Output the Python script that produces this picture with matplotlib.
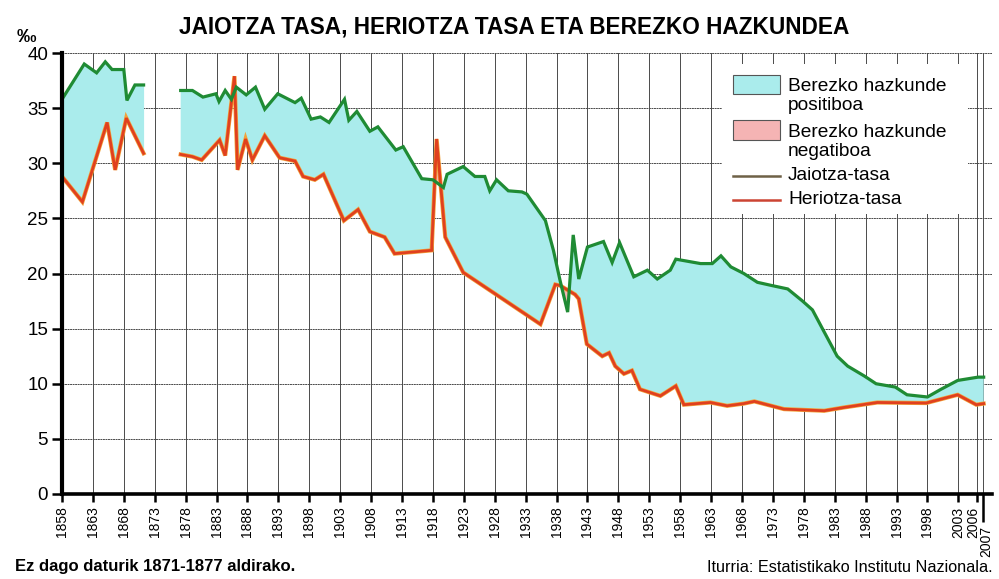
import numpy as np
import matplotlib
matplotlib.use("Agg")
import matplotlib.pyplot as plt
from matplotlib.patches import Rectangle
from matplotlib.lines import Line2D
from matplotlib.transforms import ScaledTranslation

plt.rcParams['font.family'] = ['Liberation Sans', 'DejaVu Sans']

# ---- data (NaN marks the 1872-1876 gap) ----
birth_years = [1858.0, 1861.6, 1863.6, 1865.0, 1866.1, 1868.0, 1868.5, 1869.8, 1871.2,
               1874.0,
               1877.2, 1879.1, 1880.8, 1882.9, 1883.4, 1884.4, 1885.4, 1886.2, 1887.8, 1889.3,
               1890.8, 1892.9, 1895.7, 1896.7, 1898.3, 1899.8, 1901.2, 1903.7, 1904.4, 1905.7,
               1907.8, 1909.1, 1912.0, 1913.2, 1916.2, 1918.0, 1919.7, 1920.3, 1922.9, 1924.8,
               1926.4, 1927.2, 1928.3, 1930.2, 1932.4, 1933.2, 1936.2, 1937.5, 1938.6, 1939.8,
               1940.7, 1941.6, 1943.0, 1945.6, 1947.0, 1948.2, 1950.5, 1952.7, 1954.3, 1956.4,
               1957.3, 1961.3, 1963.2, 1964.6, 1966.2, 1968.3, 1970.5, 1972.9, 1975.4, 1977.8,
               1979.4, 1981.3, 1983.4, 1985.1, 1987.8, 1989.7, 1992.8, 1994.7, 1998.0, 2000.2,
               2002.9, 2006.2, 2007.1]
birth_rate = [35.8, 39.0, 38.2, 39.2, 38.5, 38.5, 35.7, 37.1, 37.1,
              np.nan,
              36.6, 36.6, 36.0, 36.3, 35.6, 36.6, 35.8, 36.9, 36.2, 36.9,
              34.9, 36.3, 35.5, 35.9, 34.0, 34.2, 33.7, 35.8, 33.9, 34.7,
              32.9, 33.3, 31.2, 31.5, 28.6, 28.5, 27.8, 29.0, 29.7, 28.8,
              28.8, 27.5, 28.5, 27.5, 27.4, 27.2, 24.8, 22.1, 19.3, 16.5,
              23.5, 19.5, 22.4, 22.9, 21.0, 22.8, 19.7, 20.3, 19.5, 20.3,
              21.3, 20.9, 20.9, 21.6, 20.6, 20.0, 19.2, 18.9, 18.6, 17.5,
              16.7, 14.7, 12.5, 11.6, 10.7, 10.0, 9.7, 9.0, 8.8, 9.5,
              10.3, 10.6, 10.6]

death_years = [1858.0, 1861.3, 1865.3, 1866.6, 1868.4, 1871.2,
               1874.0,
               1877.2, 1879.1, 1880.6, 1883.5, 1884.4, 1885.9, 1886.4, 1887.7, 1888.8, 1890.8,
               1893.2, 1895.7, 1897.0, 1898.9, 1900.3, 1903.6, 1905.9, 1907.8, 1910.2, 1911.8,
               1917.8, 1918.6, 1920.0, 1922.9, 1935.4, 1937.8, 1938.6, 1941.0, 1941.6, 1942.9,
               1945.4, 1946.5, 1947.5, 1948.9, 1950.2, 1951.5, 1954.8, 1957.3, 1958.6, 1962.9,
               1965.6, 1968.3, 1970.0, 1974.8, 1981.3, 1984.5, 1989.9, 1997.8, 2002.9, 2005.9,
               2007.1]
death_rate = [28.8, 26.5, 33.7, 29.4, 34.1, 30.9,
              np.nan,
              30.8, 30.6, 30.3, 32.1, 30.7, 37.9, 29.4, 32.2, 30.3, 32.5,
              30.5, 30.2, 28.8, 28.5, 29.0, 24.8, 25.8, 23.8, 23.3, 21.8,
              22.1, 32.2, 23.3, 20.1, 15.4, 19.0, 18.9, 18.1, 17.7, 13.6,
              12.5, 12.8, 11.6, 10.9, 11.2, 9.5, 8.9, 9.8, 8.1, 8.3,
              8.0, 8.2, 8.4, 7.7, 7.55, 7.85, 8.3, 8.25, 9.0, 8.1,
              8.2]

x_ticks = list(range(1858, 2004, 5)) + [2006]
x_tick_extra = [2007]
y_ticks = [0, 5, 10, 15, 20, 25, 30, 35, 40]

title = "JAIOTZA TASA, HERIOTZA TASA ETA BEREZKO HAZKUNDEA"
legend_labels = ["Berezko hazkunde\npositiboa", "Berezko hazkunde\nnegatiboa",
                 "Jaiotza-tasa", "Heriotza-tasa"]
note_left = "Ez dago daturik 1871-1877 aldirako."
note_right = "Iturria: Estatistikako Institutu Nazionala."

CYAN = '#aaecec'
PINK = '#f5b4b4'
GREEN = '#1f8b34'
RED = '#e0401f'

W, H = 999, 579
fig = plt.figure(figsize=(W / 100, H / 100), dpi=100)
fig.patch.set_facecolor('white')
ax = fig.add_axes([62 / W, 1 - 494 / H, (991.7 - 62) / W, (494 - 53) / H])


def segments(xs, ys):
    xs = np.asarray(xs, float)
    ys = np.asarray(ys, float)
    out, cur = [], []
    for x, y in zip(xs, ys):
        if np.isnan(y):
            if cur:
                out.append(cur)
            cur = []
        else:
            cur.append((x, y))
    if cur:
        out.append(cur)
    return [(np.array([p[0] for p in s]), np.array([p[1] for p in s])) for s in out]


bsegs = segments(birth_years, birth_rate)
dsegs = segments(death_years, death_rate)

for (bx, by), (dx, dy) in zip(bsegs, dsegs):
    xx = np.union1d(bx, dx)
    bi = np.interp(xx, bx, by)
    di = np.interp(xx, dx, dy)
    ax.fill_between(xx, di, bi, where=bi >= di, interpolate=True,
                    color=CYAN, linewidth=0, zorder=2)
    ax.fill_between(xx, di, bi, where=bi < di, interpolate=True,
                    color=PINK, linewidth=0, zorder=2)
    ax.plot(dx, dy, color='#f2a23a', lw=3.0, zorder=3, solid_joinstyle='miter')
    ax.plot(dx, dy, color=RED, lw=2.0, zorder=4, solid_joinstyle='miter')
    ax.plot(bx, by, color=GREEN, lw=2.3, zorder=5, solid_joinstyle='miter')

ax.set_xlim(1858, 2008.4)
ax.set_ylim(0, 40)

ax.set_xticks(x_ticks)
ax.set_xticklabels([str(t) for t in x_ticks], rotation=90, fontsize=10)
ax.set_xticks(x_tick_extra, minor=True)
ax.set_xticklabels([str(t) for t in x_tick_extra], minor=True, rotation=90, fontsize=10)
ax.tick_params(axis='x', which='major', length=6, width=1.8, pad=3, direction='out')
ax.tick_params(axis='x', which='minor', length=20, width=1.8, pad=3, direction='out')
ax.set_yticks(y_ticks)
ax.set_yticklabels([str(t) for t in y_ticks], fontsize=13.5)
ax.tick_params(axis='y', length=7, width=1.8, pad=3, direction='out')

# spread the crowded 2006 / 2007 labels apart a little, as in the reference
lab_2006 = ax.get_xticklabels()[-1]
lab_2006.set_transform(lab_2006.get_transform() + ScaledTranslation(-4 / 100, 0, fig.dpi_scale_trans))
lab_2007 = ax.get_xticklabels(minor=True)[0]
lab_2007.set_transform(lab_2007.get_transform() + ScaledTranslation(3 / 100, 0, fig.dpi_scale_trans))

for t in x_ticks + x_tick_extra:
    ax.axvline(t, color='#4a4a4a', lw=0.7, zorder=1)
for v in y_ticks[1:]:
    ax.axhline(v, color='#4a4a4a', lw=0.7, zorder=1, ls=(0, (2, 0.6)))

for s in ['top', 'right']:
    ax.spines[s].set_visible(False)
ax.spines['left'].set_linewidth(3)
ax.spines['bottom'].set_linewidth(2.6)
ax.spines['left'].set_zorder(6)
ax.spines['bottom'].set_zorder(6)


def fx(px):
    return px / W


def fy(py):
    return 1 - py / H


fig.text(fx(514), fy(27), title, ha='center', va='center', fontsize=16.3,
         fontweight='bold')
fig.text(fx(17), fy(37), '‰', ha='left', va='center', fontsize=14, fontweight='bold')
fig.text(fx(15), fy(567), note_left, ha='left', va='center', fontsize=12,
         fontweight='bold')
fig.text(fx(993), fy(568), note_right, ha='right', va='center', fontsize=11.7)

# legend drawn in figure pixels
fig.patches.append(Rectangle((fx(722), fy(214)), fx(968) - fx(722), fy(64) - fy(214),
                             transform=fig.transFigure, facecolor='white',
                             edgecolor='none', zorder=10))
fig.patches.append(Rectangle((fx(733), fy(94)), fx(780) - fx(733), fy(75) - fy(94),
                             transform=fig.transFigure, facecolor=CYAN,
                             edgecolor='#555555', lw=0.8, zorder=11))
fig.patches.append(Rectangle((fx(733), fy(140)), fx(780) - fx(733), fy(120) - fy(140),
                             transform=fig.transFigure, facecolor=PINK,
                             edgecolor='#555555', lw=0.8, zorder=11))
fig.lines.append(Line2D([fx(733), fx(780)], [fy(176), fy(176)], transform=fig.transFigure,
                        color='#6e6147', lw=1.8, zorder=11))
fig.lines.append(Line2D([fx(733), fx(780)], [fy(200), fy(200)], transform=fig.transFigure,
                        color='#cc4433', lw=1.8, zorder=11))
fig.text(fx(788), fy(78), legend_labels[0], ha='left', va='top', fontsize=13.8,
         linespacing=1.12, zorder=12)
fig.text(fx(788), fy(124), legend_labels[1], ha='left', va='top', fontsize=13.8,
         linespacing=1.12, zorder=12)
fig.text(fx(788), fy(176), legend_labels[2], ha='left', va='center', fontsize=13.8, zorder=12)
fig.text(fx(788), fy(200), legend_labels[3], ha='left', va='center', fontsize=13.8, zorder=12)

fig.savefig('out.png', dpi=100, facecolor='white')
